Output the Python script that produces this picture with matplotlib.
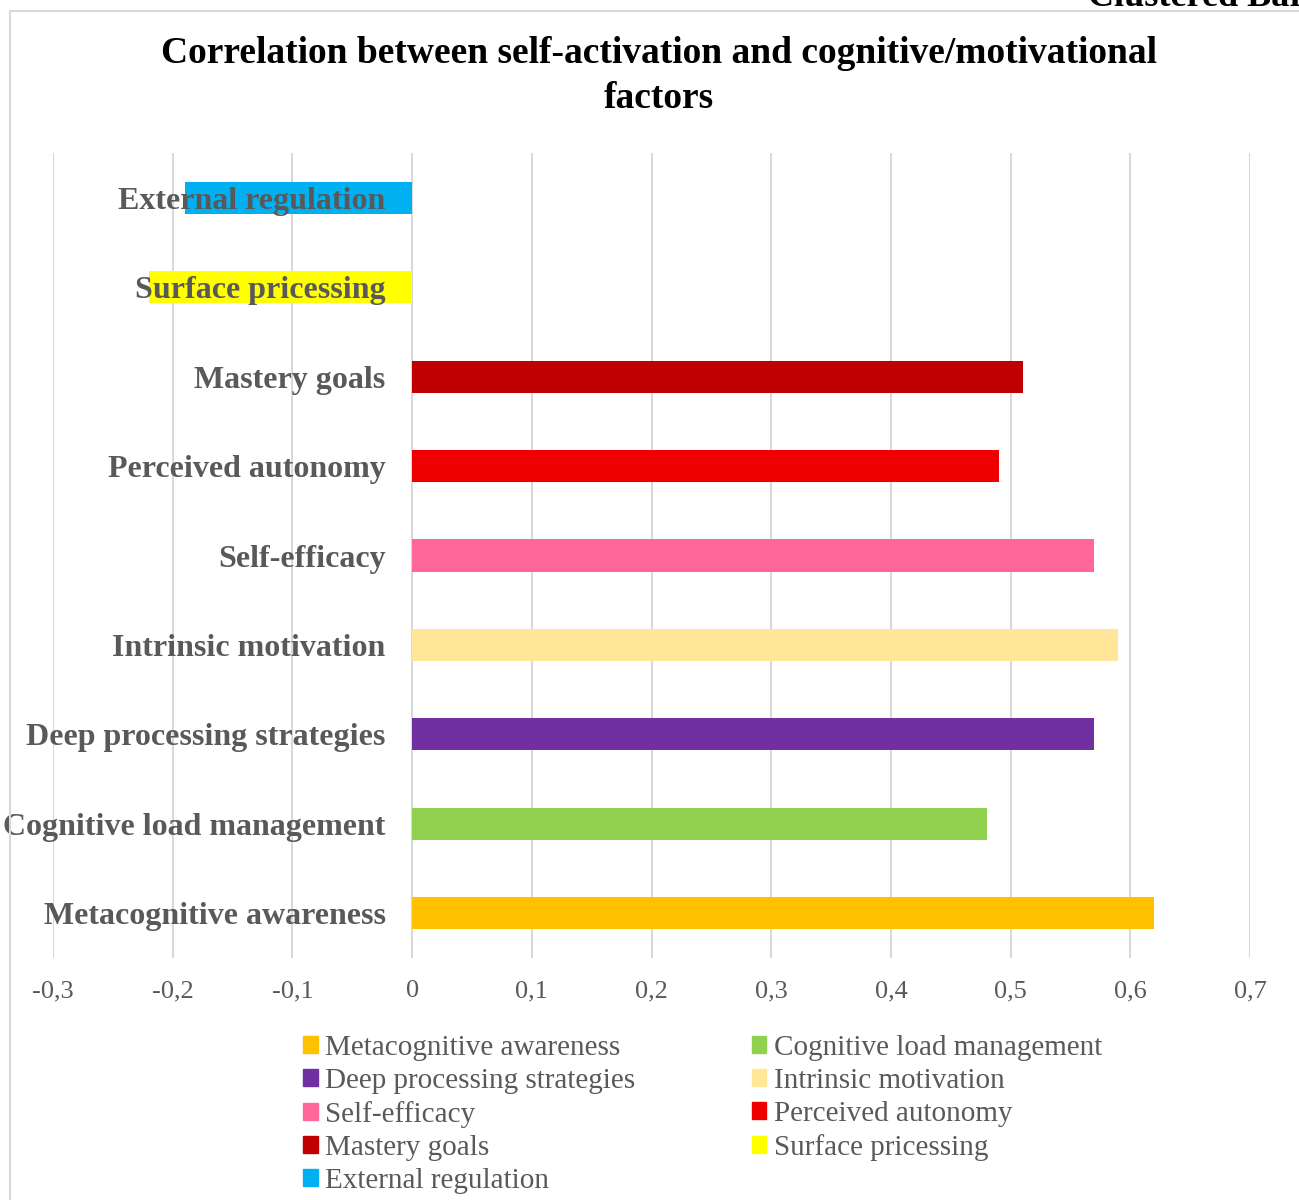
import matplotlib
matplotlib.use("Agg")
import matplotlib.pyplot as plt
from matplotlib.patches import Rectangle

plt.rcParams['font.family'] = ['Liberation Serif', 'DejaVu Serif']

categories = ["Metacognitive awareness", "Cognitive load management",
              "Deep processing strategies", "Intrinsic motivation",
              "Self-efficacy", "Perceived autonomy", "Mastery goals",
              "Surface pricessing", "External regulation"]
values = [0.62, 0.48, 0.57, 0.59, 0.57, 0.49, 0.51, -0.22, -0.19]
colors = ["#FFC000", "#92D050", "#7030A0", "#FFE699", "#FF6699",
          "#EE0000", "#C00000", "#FFFF00", "#00B0F0"]
xticks = [-0.3, -0.2, -0.1, 0.0, 0.1, 0.2, 0.3, 0.4, 0.5, 0.6, 0.7]
xticklabels = ["-0,3", "-0,2", "-0,1", "0", "0,1", "0,2", "0,3", "0,4", "0,5", "0,6", "0,7"]
title = "Correlation between self-activation and cognitive/motivational\nfactors"

W, H = 1299, 1200
fig = plt.figure(figsize=(W / 100, H / 100), dpi=100)

# chart border
fig.patches.append(Rectangle((10 / W, -0.05), 1.1, 1 - 11 / H + 0.05,
                             transform=fig.transFigure, fill=False,
                             edgecolor="#D9D9D9", linewidth=1.5))
fig.text(1088 / W, 1 + 2 / H, "Clustered Bar", ha="left", va="center",
         fontsize=26, fontweight="bold", color="black")

ax = fig.add_axes([53 / W, 1 - 958 / H, (1250 - 53) / W, (958 - 153) / H])
ax.spines['left'].set_position(('data', 0))
ypos = list(range(len(categories)))
bars = ax.barh(ypos, values, height=0.36, color=colors, zorder=1)

ax.set_xlim(-0.3, 0.7)
ax.set_ylim(-0.5, len(categories) - 0.5)
ax.set_xticks(xticks)
ax.set_xticklabels(xticklabels, fontsize=19, color="#595959")
ax.set_yticks(ypos)
ax.set_yticklabels(categories, fontsize=23, fontweight="bold", color="#595959")
for s in ax.spines.values():
    s.set_visible(False)
ax.tick_params(axis='both', length=0)
ax.tick_params(axis='y', pad=19)
ax.tick_params(axis='x', pad=16)
ax.xaxis.grid(True, color="#D9D9D9", linewidth=1.5)
ax.set_axisbelow(True)
ax.yaxis.set_zorder(5)

fig.text(659 / W, 1 - 76 / H, title, ha="center", va="center",
         fontsize=27, fontweight="bold", color="black", linespacing=1.4)

order = [0, 2, 4, 6, 8, 1, 3, 5, 7]
handles = [Rectangle((0, 0), 1, 1, color=colors[i]) for i in order]
labels = [categories[i] for i in order]
leg = fig.legend(handles, labels, ncol=2, loc="upper left",
                 bbox_to_anchor=(303 / W, 1 - 1035 / H), frameon=False,
                 fontsize=21, handlelength=0.5, handleheight=0.5,
                 handletextpad=0.25, columnspacing=4.0, labelspacing=0.24,
                 borderpad=0, borderaxespad=0)
for t in leg.get_texts():
    t.set_color("#595959")

fig.savefig("out.png", dpi=100)
